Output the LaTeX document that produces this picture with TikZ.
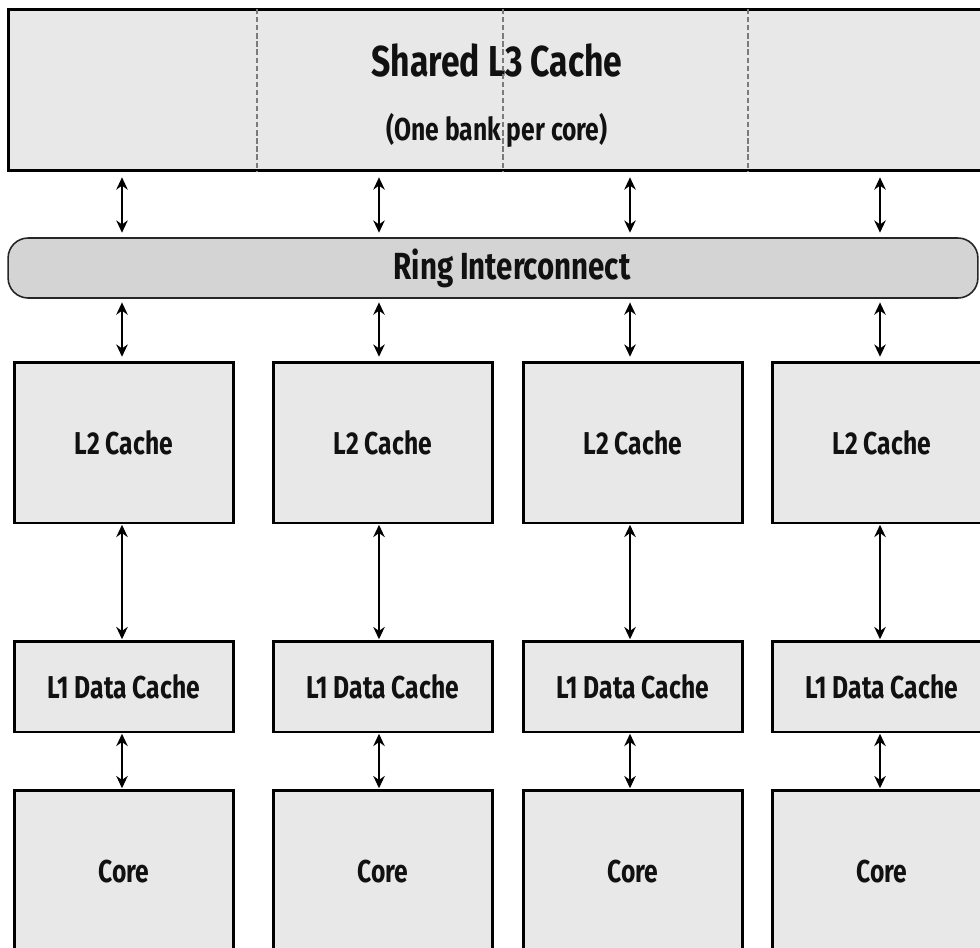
\documentclass[tikz,border=0pt]{standalone}
\usepackage{fontspec}
\setmainfont{Fira Sans}[FakeStretch=0.78]
\usetikzlibrary{arrows.meta,calc}
\definecolor{boxgray}{HTML}{E8E8E8}
\definecolor{ringgray}{HTML}{D4D4D4}
\definecolor{dashgray}{HTML}{7A7A7A}
\definecolor{txt}{HTML}{111111}
\begin{document}
\begin{tikzpicture}[x=0.02cm,y=-0.02cm,
  box/.style={draw=black,line width=1.7pt,fill=boxgray,inner sep=0pt,outer sep=0pt,
    text=txt,font=\bfseries\fontsize{18}{20}\selectfont},
  ringbox/.style={draw=black!85,line width=0.9pt,fill=ringgray,rounded corners=0.4cm,
    inner sep=0pt,outer sep=0pt},
  lbl/.style={text=txt,inner sep=0pt},
  bi/.style={{Stealth[length=7pt,width=6.5pt]}-{Stealth[length=7pt,width=6.5pt]},line width=1.6pt},
  bankline/.style={draw=dashgray,line width=1.1pt,dash pattern=on 3pt off 1.6pt}]
\useasboundingbox (0,0) rectangle (980,947);
\clip (0,0) rectangle (980,947);
% Shared L3
\node[box,minimum width=19.84cm,minimum height=3.24cm] (l3) at (504,90) {};
\node[lbl,font=\bfseries\fontsize{24.6}{28}\selectfont] (l3t) at (497,60) {Shared L3 Cache};
\node[lbl,font=\bfseries\fontsize{18}{20}\selectfont] (l3s) at (497,130) {(One bank per core)};
\foreach \i/\x in {1/257,2/503,3/748}{
  \coordinate (d\i) at (\x,0);
  \draw[bankline] (d\i |- l3.north) -- (d\i |- l3.south);
}
% Ring
\node[ringbox,minimum width=19.4cm,minimum height=1.2cm] (ring) at (493,268) {};
\node[lbl,font=\bfseries\fontsize{21.5}{24}\selectfont] (ringt) at (512,268) {Ring Interconnect};
% Columns
\foreach \i/\x in {1/124,2/383,3/633,4/882}{
  \node[box,minimum width=4.38cm,minimum height=3.22cm] (l2\i) at (\x,442.5) {L2 Cache};
  \node[box,minimum width=4.38cm,minimum height=1.82cm] (l1\i) at (\x,686.5) {L1 Data Cache};
  \node[box,minimum width=4.38cm,minimum height=3.28cm] (core\i) at (\x,872) {Core};
}
\foreach \i/\x in {1/122,2/379,3/630,4/880}{
  \coordinate (a\i) at (\x,0);
  \draw[bi,shorten <=3.6pt,shorten >=3pt] (a\i |- l3.south) -- (a\i |- ring.north);
  \draw[bi,shorten <=2.5pt,shorten >=3pt] (a\i |- ring.south) -- (a\i |- l2\i.north);
  \draw[bi,shorten <=1pt,shorten >=1pt] (a\i |- l2\i.south) -- (a\i |- l1\i.north);
  \draw[bi,shorten <=1pt,shorten >=1pt] (a\i |- l1\i.south) -- (a\i |- core\i.north);
}
\end{tikzpicture}
\end{document}
